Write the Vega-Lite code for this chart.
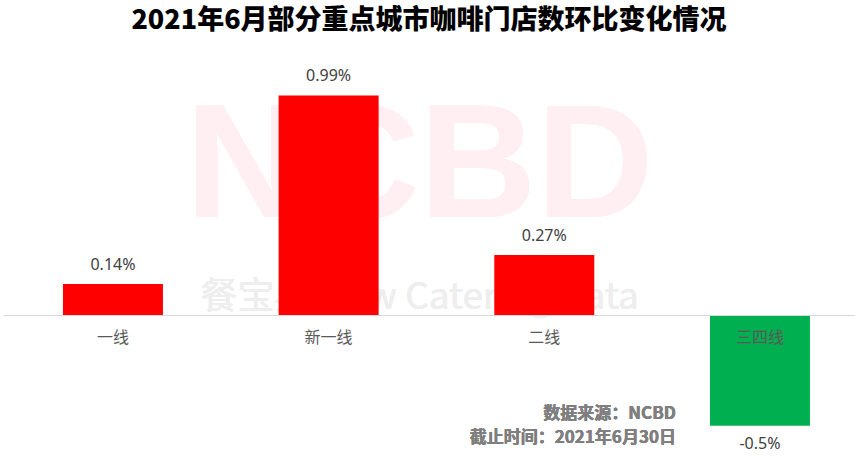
{
  "$schema": "https://vega.github.io/schema/vega-lite/v6.json",
  "autosize": {"type": "none"},
  "width": 852,
  "height": 377,
  "padding": {"left": 3, "right": 0, "top": 71, "bottom": 12},
  "background": "white",
  "config": {"view": {"stroke": null}, "font": "Noto Sans CJK SC"},
  "title": {
    "text": "2021年6月部分重点城市咖啡门店数环比变化情况",
    "fontSize": 27,
    "fontWeight": 900,
    "font": "Noto Sans CJK SC",
    "color": "#000000",
    "anchor": "middle",
    "offset": 33
  },
  "data": {
    "values": [
      {"city": "一线", "value": 0.14},
      {"city": "新一线", "value": 0.99},
      {"city": "二线", "value": 0.27},
      {"city": "三四线", "value": -0.5}
    ]
  },
  "transform": [{"calculate": "datum.value + '%'", "as": "label"}],
  "encoding": {
    "x": {
      "field": "city",
      "type": "nominal",
      "sort": null,
      "scale": {"domain": ["一线", "新一线", "二线", "三四线"], "paddingInner": 0.5363, "paddingOuter": 0.2434, "align": 0.571},
      "axis": {
        "title": null,
        "orient": "bottom",
        "offset": -133,
        "ticks": false,
        "domain": true,
        "domainColor": "#D9D9D9",
        "domainWidth": 1,
        "labelAngle": 0,
        "labelFontSize": 16,
        "labelColor": "#595959",
        "labelFont": "Noto Sans CJK SC",
        "labelPadding": 14,
        "zindex": 1
      }
    },
    "y": {
      "field": "value",
      "type": "quantitative",
      "scale": {"domain": [-0.6, 1.1], "nice": false, "zero": false},
      "axis": null
    }
  },
  "layer": [
    {
      "mark": {"type": "text", "text": "NCBD", "font": "Liberation Sans", "fontWeight": "bold", "fontSize": 162, "color": "#FFEFF3", "align": "center", "baseline": "middle", "dx": 41},
      "encoding": {
        "x": {"datum": "新一线", "bandPosition": 1},
        "y": {"datum": 0.663}
      }
    },
    {
      "mark": {"type": "text", "text": "餐宝典 New Catering Data", "font": "Noto Sans CJK SC", "fontSize": 37, "color": "#EEEEEE", "align": "center", "baseline": "middle", "dx": 41},
      "encoding": {
        "x": {"datum": "新一线", "bandPosition": 1},
        "y": {"datum": 0.077}
      }
    },
    {
      "mark": {"type": "bar"},
      "encoding": {
        "y2": {"datum": 0},
        "color": {
          "condition": {"test": "datum.value < 0", "value": "#00B050"},
          "value": "#FF0000"
        }
      }
    },
    {
      "transform": [{"filter": "datum.value >= 0"}],
      "mark": {"type": "text", "fontSize": 16, "color": "#404040", "baseline": "middle", "dy": -19, "font": "Noto Sans"},
      "encoding": {"text": {"field": "label"}}
    },
    {
      "transform": [{"filter": "datum.value < 0"}],
      "mark": {"type": "text", "fontSize": 16, "color": "#404040", "baseline": "middle", "dy": 18, "font": "Noto Sans"},
      "encoding": {"text": {"field": "label"}}
    },
    {
      "mark": {"type": "text", "text": ["数据来源：NCBD", "截止时间：2021年6月30日"], "font": "Noto Sans CJK SC", "fontWeight": "bold", "fontSize": 17, "lineHeight": 24, "color": "#7F7F7F", "align": "right", "baseline": "alphabetic", "dx": -34},
      "encoding": {
        "x": {"datum": "三四线", "bandPosition": 0},
        "y": {"datum": -0.47}
      }
    }
  ]
}
